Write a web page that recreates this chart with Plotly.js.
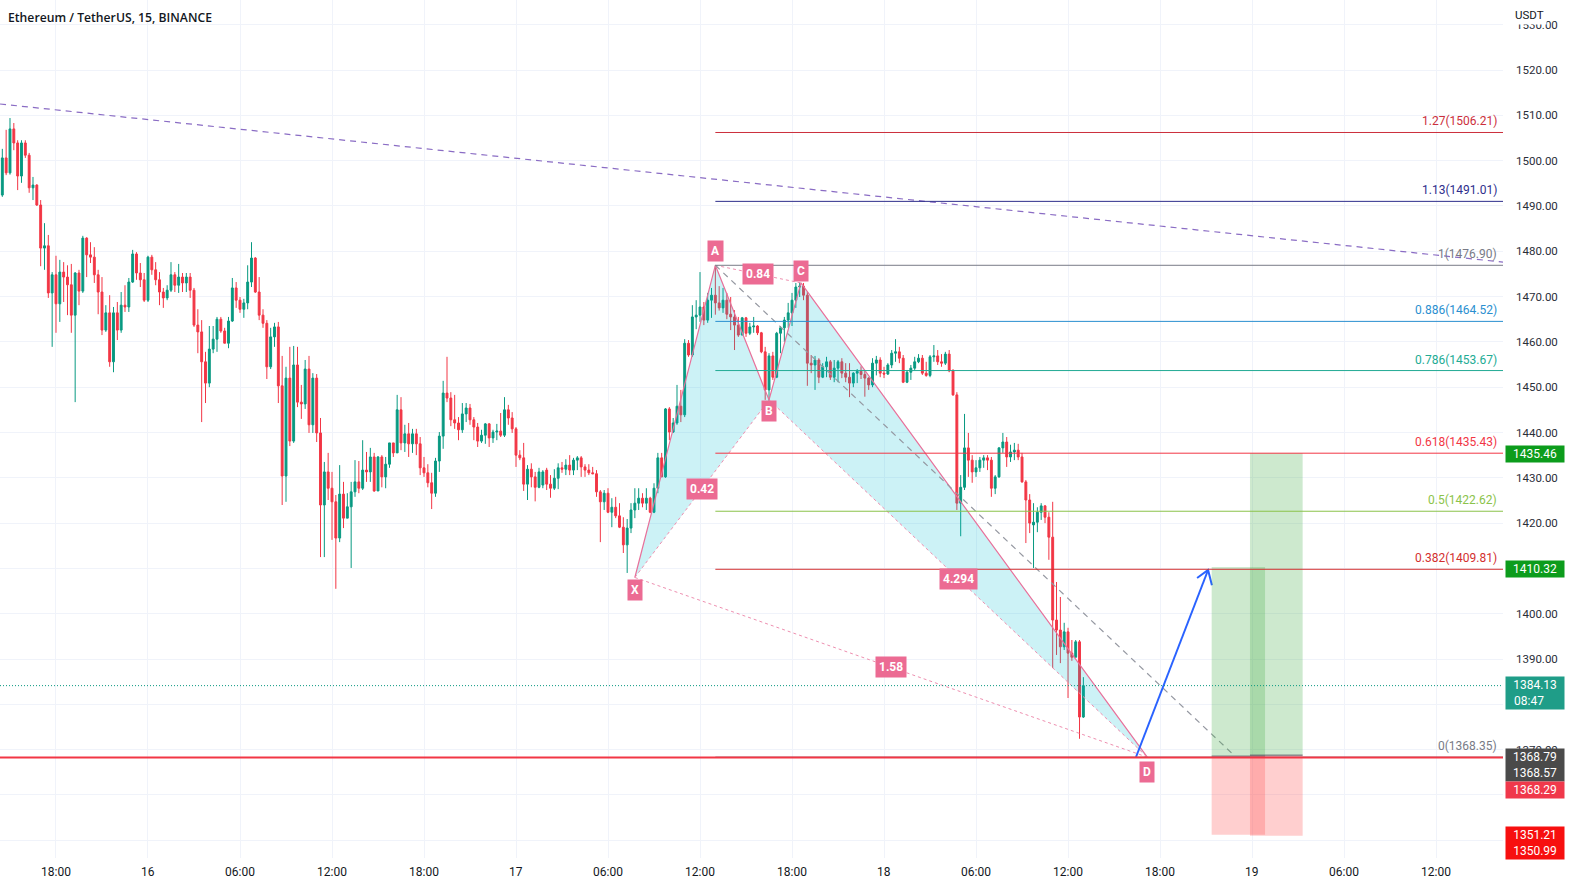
<!DOCTYPE html>
<html><head><meta charset="utf-8">
<script src="https://cdn.plot.ly/plotly-3.0.1.min.js"></script>
<style>html,body{margin:0;padding:0;background:#fff;}#chart{width:1569px;height:887px;}</style>
</head><body><div id="chart"></div>
<script>
// ---------------- DATA ----------------
const firstCandle = '2022-11-15 14:30';   // 15-minute candles
const open = [
1492.4,1500.6,1497.3,1507.0,1503.9,1496.6,1503.9,1501.2,1494.0,1494.6,1490.2,1480.7,1481.2,1470.8,1474.8,1468.4,1475.4,1474.3,1472.6,1465.9,1475.2,1471.2,1482.9,1479.2,1478.7,1474.8,1471.0,1462.6,1466.4,1455.6,1466.4,1462.6,1468.1,1467.7,1473.2,1479.4,1475.2,1473.7,1469.2,
1478.7,1475.9,1473.7,1471.0,1469.7,1471.4,1474.8,1472.5,
1474.3,1473.0,1474.3,1471.4,1463.7,1462.2,1455.6,1450.9,1458.4,1460.6,1465.0,1462.4,1459.7,1464.6,1471.9,1469.2,1467.2,1468.6,1473.2,1478.5,1471.0,1465.9,1464.1,1454.5,1461.1,1463.3,1450.3,1430.4,1452.0,1438.1,1454.9,1446.7,1446.3,1454.0,1441.7,1452.0,1439.9,1424.0,1431.3,1427.7,1424.7,1416.7,1426.4,1421.1,1423.6,1426.9,1429.1,1427.7,1431.7,
1431.3,1434.6,1427.1,1434.6,1430.2,1433.0,1437.7,1435.5,1445.0,1437.7,1439.7,1437.5,1439.7,1437.5,1432.2,1431.1,1428.9,1426.6,1433.7,1439.2,1448.7,1447.6,1442.8,1442.1,1440.6,1444.1,1445.4,1442.8,1441.2,1438.1,1439.4,1441.9,1438.8,1440.1,1440.3,1439.4,1445.0,1443.2,1440.8,1435.0,1434.4,1428.6,1431.9,1430.2,1427.9,
1428.4,1431.7,1428.6,1427.7,1429.9,1432.2,1431.9,1432.8,1431.7,1433.9,1434.4,1432.4,1431.7,1431.1,1430.9,1426.9,1424.7,1426.6,1422.4,1423.5,1421.6,1419.1,1415.2,1418.9,1422.9,1424.4,1425.5,1424.4,1425.5,1422.4,1427.7,1434.4,1430.2,1445.2,1440.1,1442.1,1445.8,1443.9,1459.7,1457.1,1465.5,1465.9,1467.7,1464.8,1469.2,1470.3,
1468.6,1467.5,1469.2,1466.1,1465.5,1463.7,1461.5,1465.3,1461.9,1463.3,1463.5,1462.0,1457.8,1449.4,1456.9,1452.2,1461.9,1463.1,1464.8,1466.4,1469.2,1472.1,1472.3,1470.3,1455.3,1454.9,1456.0,1452.2,1454.5,1455.6,1452.2,1454.2,1455.6,1453.1,1452.2,1450.9,1453.1,1453.5,1452.8,1452.0,1450.5,1455.3,1456.0,1453.1,1452.9,1454.9,1457.5,1457.8,1456.4,1451.1,
1453.3,1454.2,1455.6,1456.4,1453.1,1452.6,1456.7,1456.9,1455.6,1455.3,1457.3,1453.6,1448.3,1424.4,1427.9,1436.6,1433.9,1431.3,1432.2,1433.9,1434.4,1433.9,1427.7,1430.2,1436.6,1437.9,1434.6,1435.7,1436.1,1434.6,1429.1,1425.1,1419.6,1420.2,1422.4,1423.8,1421.3,1416.9,1398.6,1396.4,1392.7,1396.0,1391.3,1390.4,1393.8,1377.2
];
const high = [
1502.6,1506.8,1509.4,1508.3,1504.5,1504.5,1504.5,1501.7,1496.4,1494.8,1491.3,1486.2,1483.6,1475.4,1479.0,1478.1,1477.6,1476.9,1477.2,1475.4,1475.9,1483.4,1483.1,1482.0,1480.9,1475.9,1474.3,1468.1,1470.3,1467.7,1468.8,1471.0,1472.5,1474.1,1480.3,1479.8,1477.4,1475.2,1479.0,
1479.2,1477.6,1475.4,1471.9,1472.5,1477.6,1475.4,1477.2,
1475.2,1475.2,1475.2,1471.9,1467.2,1464.8,1457.8,1463.5,1463.5,1465.5,1465.5,1463.1,1465.5,1474.1,1473.2,1469.9,1469.5,1476.9,1482.0,1478.7,1474.3,1467.2,1464.8,1463.1,1464.2,1464.4,1456.9,1454.5,1458.9,1459.1,1458.9,1450.5,1456.0,1456.9,1453.1,1452.9,1443.2,1433.5,1435.5,1431.3,1426.2,1432.8,1429.1,1426.6,1429.1,1433.9,1433.7,1438.3,1435.7,
1436.6,1435.5,1434.8,1435.0,1434.6,1437.7,1437.7,1448.3,1447.8,1441.7,1442.1,1440.8,1440.8,1439.0,1434.6,1433.0,1431.1,1434.4,1440.1,1451.4,1456.7,1448.9,1448.3,1443.4,1446.5,1446.5,1446.3,1443.4,1442.1,1440.6,1442.1,1442.1,1440.6,1441.9,1444.3,1447.8,1446.1,1444.5,1441.2,1436.1,1437.7,1432.8,1433.2,1431.3,1432.2,
1431.7,1432.2,1430.6,1431.9,1433.2,1433.5,1434.1,1435.0,1434.4,1434.8,1434.8,1433.0,1433.0,1432.4,1431.7,1427.3,1427.3,1427.7,1425.5,1425.8,1424.4,1421.3,1420.9,1424.4,1427.7,1427.7,1426.6,1427.7,1425.8,1428.8,1435.5,1435.5,1445.4,1445.6,1443.2,1450.5,1449.4,1460.6,1460.4,1468.1,1469.2,1475.4,1468.8,1470.8,1471.9,1476.9,
1472.3,1471.9,1470.8,1469.9,1467.0,1465.5,1465.5,1465.5,1464.2,1465.5,1463.7,1462.2,1458.9,1457.5,1457.8,1462.2,1463.5,1465.5,1468.6,1470.8,1473.0,1473.2,1473.0,1471.0,1457.1,1456.9,1456.4,1455.3,1456.7,1456.0,1456.0,1456.0,1456.4,1455.3,1455.3,1453.3,1454.0,1454.6,1453.8,1452.2,1456.4,1456.9,1456.6,1454.5,1455.3,1458.2,1460.6,1458.9,1457.1,1453.8,
1454.9,1456.7,1457.3,1457.1,1455.6,1457.1,1459.3,1458.2,1457.3,1457.8,1458.2,1454.0,1448.9,1430.6,1444.1,1439.9,1435.0,1433.9,1434.6,1435.0,1435.0,1434.6,1430.6,1436.8,1439.9,1439.0,1437.3,1437.7,1437.5,1435.5,1429.5,1426.4,1424.4,1423.5,1424.4,1424.0,1422.4,1424.7,1407.0,1403.7,1398.0,1396.9,1394.2,1394.2,1394.2,1386.0
];
const low = [
1492.0,1496.8,1496.9,1502.3,1493.5,1495.1,1500.6,1492.9,1491.3,1490.0,1476.7,1475.9,1469.7,1458.9,1462.0,1464.4,1468.8,1465.9,1462.0,1446.7,1468.1,1470.8,1474.3,1477.4,1473.0,1466.1,1461.5,1462.2,1454.5,1453.3,1460.4,1462.0,1466.6,1466.6,1473.0,1473.7,1472.1,1468.8,1468.8,
1474.8,1472.5,1468.1,1467.5,1469.2,1471.0,1471.0,1470.8,
1471.0,1471.0,1469.7,1463.3,1457.5,1442.3,1446.5,1450.0,1457.5,1457.8,1462.0,1459.7,1458.6,1464.4,1467.5,1466.4,1465.3,1467.2,1472.1,1470.8,1464.8,1463.1,1451.8,1454.0,1458.9,1446.5,1424.0,1424.7,1437.0,1437.7,1445.6,1443.0,1445.2,1439.9,1439.9,1437.9,1412.5,1412.5,1425.1,1416.3,1405.5,1415.8,1418.9,1421.1,1410.1,1425.8,1426.6,1427.3,1429.1,
1429.1,1426.9,1427.1,1427.9,1427.7,1432.2,1434.6,1435.5,1436.1,1435.7,1434.6,1435.5,1435.0,1430.6,1430.2,1427.9,1423.1,1425.8,1431.3,1436.4,1446.7,1441.4,1440.8,1438.3,1439.9,1442.3,1441.7,1438.3,1436.8,1437.7,1437.5,1436.8,1437.7,1438.3,1439.0,1439.0,1441.7,1439.9,1432.4,1433.9,1427.1,1425.1,1427.9,1424.8,1427.7,
1427.7,1427.3,1425.6,1427.3,1427.5,1431.1,1430.6,1430.6,1430.6,1431.7,1430.2,1430.2,1430.6,1430.8,1425.8,1415.8,1422.9,1422.2,1419.1,1421.1,1418.9,1413.4,1409.0,1417.8,1421.1,1422.9,1423.5,1422.9,1422.2,1422.2,1426.6,1430.2,1430.0,1438.3,1439.9,1441.7,1442.3,1443.4,1456.7,1456.7,1462.8,1464.4,1463.7,1464.2,1465.3,1466.0,
1466.9,1466.4,1465.0,1462.6,1458.2,1461.1,1461.5,1461.1,1461.5,1462.0,1461.5,1457.5,1447.2,1446.7,1451.6,1452.0,1457.5,1460.0,1463.1,1463.5,1467.5,1469.9,1469.2,1450.3,1453.1,1449.4,1450.9,1452.0,1452.2,1451.6,1451.1,1451.1,1452.0,1451.1,1447.8,1450.0,1450.9,1451.8,1447.9,1449.4,1450.0,1452.6,1452.2,1452.0,1452.7,1454.2,1455.6,1455.3,1450.9,1450.9,
1451.6,1453.8,1455.3,1452.7,1452.3,1452.2,1455.6,1454.9,1454.5,1454.9,1453.3,1448.1,1422.9,1417.1,1427.3,1430.2,1428.9,1430.2,1431.3,1432.2,1431.7,1425.8,1426.4,1430.0,1435.5,1432.4,1433.5,1433.9,1433.9,1428.9,1415.6,1417.8,1410.1,1418.0,1420.7,1420.0,1411.9,1388.0,1390.9,1389.1,1392.0,1381.4,1389.6,1390.4,1372.4,1377.0
];
const close = [
1500.6,1497.3,1507.0,1503.9,1496.6,1503.9,1501.2,1494.0,1494.6,1490.2,1480.7,1481.2,1470.8,1474.8,1468.4,1475.4,1474.3,1472.6,1465.9,1475.2,1471.2,1482.9,1479.2,1478.7,1474.8,1471.0,1462.6,1466.4,1455.6,1466.4,1462.6,1468.1,1467.7,1473.2,1479.4,1475.2,1473.7,1469.2,1478.7,
1475.9,1473.7,1471.0,1469.7,1471.4,1474.8,1472.5,1474.3,
1473.0,1474.3,1471.4,1463.7,1462.2,1455.6,1450.9,1458.4,1460.6,1465.0,1462.4,1459.7,1464.6,1471.9,1469.2,1467.2,1468.6,1473.2,1478.5,1471.0,1465.9,1464.1,1454.5,1461.1,1463.3,1450.3,1430.4,1452.0,1438.1,1454.9,1446.7,1446.3,1454.0,1441.7,1452.0,1439.9,1424.0,1431.3,1427.7,1424.7,1416.7,1426.4,1421.1,1423.6,1426.9,1429.1,1427.7,1431.7,1431.3,
1434.6,1427.1,1434.6,1430.2,1433.0,1437.7,1435.5,1445.0,1437.7,1439.7,1437.5,1439.7,1437.5,1432.2,1431.1,1428.9,1426.6,1433.7,1439.2,1448.7,1447.6,1442.8,1442.1,1440.6,1444.1,1445.4,1442.8,1441.2,1438.1,1439.4,1441.9,1438.8,1440.1,1440.3,1439.4,1445.0,1443.2,1440.8,1435.0,1434.4,1428.6,1431.9,1430.2,1427.9,1431.3,
1431.3,1428.6,1427.7,1429.9,1432.2,1431.9,1432.8,1431.7,1433.9,1434.4,1432.4,1431.7,1431.1,1430.9,1426.9,1424.7,1426.6,1422.4,1423.5,1421.6,1419.1,1415.2,1418.9,1422.9,1424.4,1425.5,1424.4,1425.5,1422.4,1427.7,1434.4,1430.2,1445.2,1440.1,1442.1,1445.8,1443.9,1459.7,1457.1,1465.5,1465.9,1467.7,1464.8,1469.2,1470.3,1468.6,
1467.5,1469.2,1466.1,1465.5,1463.7,1461.5,1465.3,1461.9,1463.3,1463.5,1462.0,1457.8,1449.4,1456.9,1452.2,1461.9,1463.1,1464.8,1466.4,1469.2,1472.1,1472.3,1470.3,1455.3,1454.9,1456.0,1452.2,1454.5,1455.6,1452.2,1454.2,1455.6,1453.1,1452.2,1450.9,1453.1,1453.5,1452.8,1452.0,1450.5,1455.3,1456.0,1453.1,1452.9,1454.9,1457.5,1457.8,1456.4,1451.1,1453.3,
1454.2,1455.6,1456.4,1453.1,1452.6,1456.7,1456.9,1455.6,1455.3,1457.3,1453.6,1448.3,1424.4,1427.9,1436.6,1433.9,1431.3,1432.2,1433.9,1434.4,1433.9,1427.7,1430.2,1436.6,1437.9,1434.6,1435.7,1436.1,1434.6,1429.1,1425.1,1420.0,1420.2,1422.4,1423.8,1421.3,1416.9,1398.6,1396.4,1392.7,1396.0,1391.3,1390.4,1393.8,1377.2,1384.13
];

// x-axis tick labels
const xTickVals = ['2022-11-15 18:00','2022-11-16 00:00','2022-11-16 06:00','2022-11-16 12:00','2022-11-16 18:00','2022-11-17 00:00','2022-11-17 06:00','2022-11-17 12:00','2022-11-17 18:00','2022-11-18 00:00','2022-11-18 06:00','2022-11-18 12:00','2022-11-18 18:00','2022-11-19 00:00','2022-11-19 06:00','2022-11-19 12:00'];
const xTickText = ['18:00','16','06:00','12:00','18:00','17','06:00','12:00','18:00','18','06:00','12:00','18:00','19','06:00','12:00'];
// y-axis tick labels (those hidden behind price-scale labels are left blank)
const yTickVals = [1350,1360,1370,1380,1390,1400,1410,1420,1430,1440,1450,1460,1470,1480,1490,1500,1510,1520,1530];
const yHidden   = [1350,1360,1380];

// XABCD pattern
const patternNames  = ['X','A','B','C','D'];
const patternTimes  = ['2022-11-17 07:45','2022-11-17 13:00','2022-11-17 16:30','2022-11-17 18:35','2022-11-18 17:10'];
const patternPrices = [1408.0, 1476.9, 1447.2, 1473.0, 1368.35];
const ratioTexts = ['0.42','0.84','4.294','1.58'];
const ratioPairs = [[0,2],[1,3],[2,4],[0,4]];

// Fibonacci retracement
const fibLevels = [1.27, 1.13, 1, 0.886, 0.786, 0.618, 0.5, 0.382, 0];
const fibPrices = [1506.21, 1491.01, 1476.90, 1464.52, 1453.67, 1435.43, 1422.62, 1409.81, 1368.35];
const fibStart = '2022-11-17 13:00';

// trend lines
const trendTimes  = ['2022-11-15 14:21','2022-11-19 16:22'];
const trendPrices = [1512.5, 1477.6];
const dashTimes   = ['2022-11-17 13:00','2022-11-18 22:45'];
const dashPrices  = [1476.9, 1369.0];
const arrowTimes  = ['2022-11-18 16:26','2022-11-18 21:08','2022-11-18 20:25','2022-11-18 21:23'];
const arrowPrices = [1368.38, 1409.65, 1407.9, 1406.3];

// horizontal levels
const lastPrice = 1384.13;
const countdown = '08:47';
const hLinePrice = 1368.29;

// long positions
const posStart  = ['2022-11-18 21:22','2022-11-18 23:52'];
const posEnd    = ['2022-11-19 00:51','2022-11-19 03:18'];
const posTarget = [1410.32, 1435.46];
const posEntry  = [1368.57, 1368.79];
const posStop   = [1351.21, 1350.99];

// ---------------- BUILD ----------------
const toMs = s => Date.parse(s.replace(' ','T')+':00Z');
const pad = n => String(n).padStart(2,'0');
const fmt = ms => { const d = new Date(ms); return d.getUTCFullYear()+'-'+pad(d.getUTCMonth()+1)+'-'+pad(d.getUTCDate())+' '+pad(d.getUTCHours())+':'+pad(d.getUTCMinutes()); };
const t0 = toMs(firstCandle);
const times = close.map((_, i) => fmt(t0 + i*15*60000));

const PINK = '#e8709a';
const traces = [];
traces.push({
  type:'candlestick', x:times, open:open, high:high, low:low, close:close,
  increasing:{line:{color:'#089981',width:1}, fillcolor:'#089981'},
  decreasing:{line:{color:'#f23645',width:1}, fillcolor:'#f23645'},
  hoverinfo:'none', whiskerwidth:0
});
[[0,1,2],[2,3,4]].forEach(tri => {
  traces.push({type:'scatter', mode:'lines', x:tri.concat(tri[0]).map(i=>patternTimes[i]), y:tri.concat(tri[0]).map(i=>patternPrices[i]),
    fill:'toself', fillcolor:'rgba(0,188,212,0.2)', line:{width:0}, hoverinfo:'skip'});
});
traces.push({type:'scatter', mode:'lines', x:patternTimes, y:patternPrices, line:{color:PINK,width:1.2}, hoverinfo:'skip'});
const dx = [], dy = [];
ratioPairs.forEach(p => { dx.push(patternTimes[p[0]], patternTimes[p[1]], null); dy.push(patternPrices[p[0]], patternPrices[p[1]], null); });
traces.push({type:'scatter', mode:'lines', x:dx, y:dy, line:{color:'#ee8fb0',width:1,dash:'dot'}, hoverinfo:'skip', connectgaps:false});
traces.push({type:'scatter', mode:'lines', x:dashTimes, y:dashPrices, line:{color:'#9598a1',width:1.2,dash:'6px,5px'}, hoverinfo:'skip'});
traces.push({type:'scatter', mode:'lines', x:trendTimes, y:trendPrices, line:{color:'#8a6cc4',width:1.2,dash:'6px,5px'}, hoverinfo:'skip'});
traces.push({type:'scatter', mode:'lines', x:[arrowTimes[0],arrowTimes[1],null,arrowTimes[2],arrowTimes[1],arrowTimes[3]],
  y:[arrowPrices[0],arrowPrices[1],null,arrowPrices[2],arrowPrices[1],arrowPrices[3]], line:{color:'#2962ff',width:2}, hoverinfo:'skip'});

const fibColors = ['#cc2f3c','#2e2e8c','#787b86','#2a8fd0','#22ab94','#f23645','#8bc34a','#d32f2f','#787b86'];
const shapes = [];
const annotations = [];

for (let i=0;i<posStart.length;i++){
  shapes.push({type:'rect', xref:'x', yref:'y', x0:posStart[i], x1:posEnd[i], y0:posEntry[i], y1:posTarget[i], fillcolor:'rgba(76,175,80,0.28)', line:{width:0}, layer:'above'});
  shapes.push({type:'rect', xref:'x', yref:'y', x0:posStart[i], x1:posEnd[i], y0:posStop[i], y1:posEntry[i], fillcolor:'rgba(255,82,82,0.28)', line:{width:0}, layer:'above'});
  shapes.push({type:'line', xref:'x', yref:'y', x0:posStart[i], x1:posEnd[i], y0:posEntry[i], y1:posEntry[i], line:{color:'#5d606b',width:1}, layer:'above'});
}
fibLevels.forEach((lv, i) => {
  shapes.push({type:'line', xref:'x', yref:'y', x0:fibStart, x1:'2022-11-19 18:00', y0:fibPrices[i], y1:fibPrices[i], line:{color:fibColors[i],width:1}, layer:'above'});
  annotations.push({xref:'paper', x:0.9973, xanchor:'right', yref:'y', y:fibPrices[i], yanchor:'bottom', yshift:2,
    text:String(lv)+'('+fibPrices[i].toFixed(2)+')', showarrow:false, font:{size:12,color:fibColors[i]}});
});
shapes.push({type:'line', xref:'paper', yref:'y', x0:0, x1:1, y0:hLinePrice, y1:hLinePrice, line:{color:'#f23645',width:2}, layer:'above'});
shapes.push({type:'line', xref:'paper', yref:'y', x0:0, x1:1, y0:lastPrice, y1:lastPrice, line:{color:'#089981',width:1,dash:'1px,2px'}, layer:'above'});

const pointShift = [-13, 14, -11, 12, -15];
patternNames.forEach((n,i)=>{
  annotations.push({xref:'x', yref:'y', x:patternTimes[i], y:patternPrices[i], yshift:pointShift[i], text:'<b>'+n+'</b>', showarrow:false,
    bgcolor:'#ec6b93', borderpad:3, font:{size:12,color:'#ffffff'}});
});
ratioPairs.forEach((p,i)=>{
  const mx = fmt((toMs(patternTimes[p[0]])+toMs(patternTimes[p[1]]))/2);
  const my = (patternPrices[p[0]]+patternPrices[p[1]])/2;
  annotations.push({xref:'x', yref:'y', x:mx, y:my, text:'<b>'+ratioTexts[i]+'</b>', showarrow:false,
    bgcolor:'#ec6b93', borderpad:3, font:{size:12,color:'#ffffff'}});
});

// x-axis labels (drawn at the tick positions of the time scale)
xTickVals.forEach((v,i)=>{
  annotations.push({xref:'x', x:v, yref:'paper', y:0, yanchor:'top', yshift:-5, text:xTickText[i], showarrow:false,
    font:{size:12,color:'#131722'}});
});

// price scale labels
const scaleTexts = [posTarget[1].toFixed(2), posTarget[0].toFixed(2), lastPrice.toFixed(2)+'<br>'+countdown+'\u00a0\u00a0\u00a0\u00a0',
  posEntry[1].toFixed(2)+'<br>'+posEntry[0].toFixed(2), hLinePrice.toFixed(2), posStop[0].toFixed(2)+'<br>'+posStop[1].toFixed(2)];
const scaleY = [posTarget[1], posTarget[0], lastPrice, posEntry[1], hLinePrice, posStop[0]];
const scaleBg = ['#0c9c1c','#0c9c1c','#1f9d88','#4a4a4a','#f0384b','#f70f0f'];
const scaleShift = [-1, -2, -7, -10, -33, -8];
scaleTexts.forEach((t,i)=>{
  annotations.push({xref:'paper', x:1, xanchor:'left', xshift:2, yref:'y', y:scaleY[i], yshift:scaleShift[i], text:t, showarrow:false,
    bgcolor:scaleBg[i], borderpad:1, width:56, align:'center', font:{size:12,color:'#ffffff'}});
});
annotations.push({xref:'paper', x:1, xanchor:'left', xshift:9, yref:'paper', y:1, yanchor:'top', yshift:-5, text:'USDT', showarrow:false,
  bgcolor:'#ffffff', borderpad:2, font:{size:11.5,color:'#131722'}});
annotations.push({xref:'paper', x:0, xanchor:'left', xshift:6, yref:'paper', y:1, yanchor:'top', yshift:-7,
  text:'Ethereum / TetherUS, 15, BINANCE', showarrow:false, font:{family:'Open Sans, sans-serif', size:12.2, color:'#131722', weight:600}});

const layout = {
  width:1569, height:887, margin:{l:0,r:66,t:0,b:29},
  paper_bgcolor:'#ffffff', plot_bgcolor:'#ffffff', showlegend:false, hovermode:false, dragmode:false,
  font:{family:'Roboto, sans-serif', size:12, color:'#131722'},
  xaxis:{type:'date', range:['2022-11-15 14:20:55','2022-11-19 16:22'], tickmode:'array', tickvals:xTickVals, showticklabels:false,
    showgrid:true, gridcolor:'#f0f3fa', zeroline:false, ticks:'', rangeslider:{visible:false}, fixedrange:true},
  yaxis:{side:'right', range:[1346.09,1535.45], tickmode:'array', tickvals:yTickVals,
    ticktext:yTickVals.map(v => yHidden.includes(v) ? '' : v.toFixed(2)), showgrid:true, gridcolor:'#f0f3fa',
    zeroline:false, ticks:'', ticklabelstandoff:12, fixedrange:true, tickfont:{size:11.5,color:'#2a2e39'}},
  shapes:shapes, annotations:annotations
};
Plotly.newPlot('chart', traces, layout, {staticPlot:true, displayModeBar:false});
</script>
</body></html>
